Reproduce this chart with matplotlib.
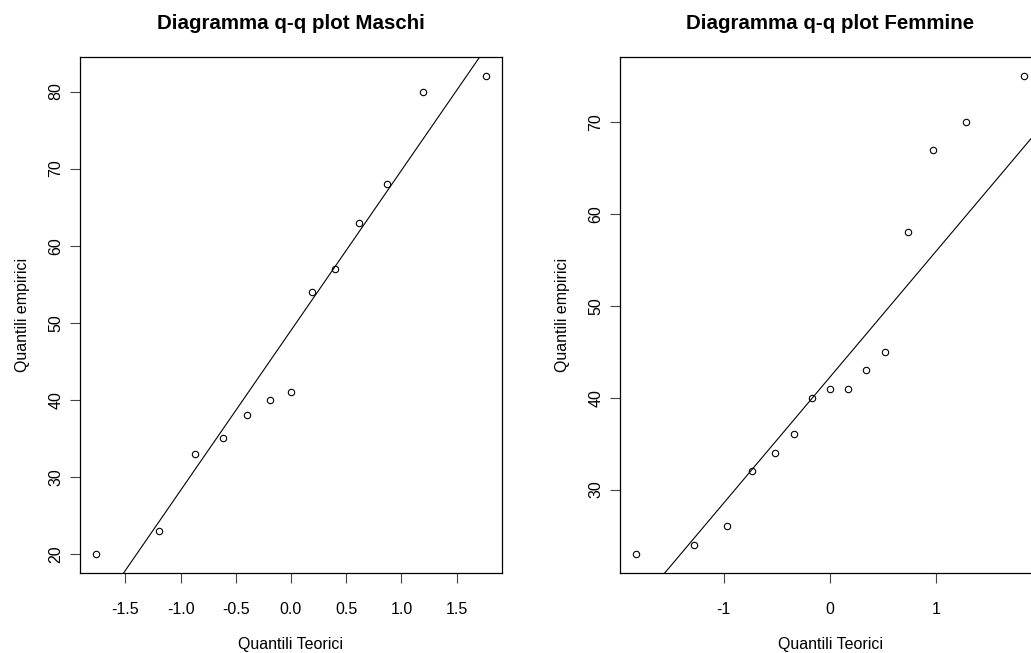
import numpy as np
import matplotlib
matplotlib.use("Agg")
import matplotlib.pyplot as plt
from matplotlib.ticker import FormatStrFormatter

plt.rcParams['font.family'] = ['Liberation Sans', 'DejaVu Sans']
plt.rcParams['axes.unicode_minus'] = False

# theoretical quantiles
x_maschi = [-1.77, -1.20, -0.87, -0.62, -0.40, -0.19, 0.0, 0.19, 0.40, 0.62, 0.87, 1.20, 1.77]
y_maschi = [20, 23, 33, 35, 38, 40, 41, 54, 57, 63, 68, 80, 82]

x_femmine = [-1.83, -1.28, -0.97, -0.73, -0.52, -0.34, -0.17, 0.0, 0.17, 0.34, 0.52, 0.73, 0.97, 1.28, 1.83]
y_femmine = [23, 24, 26, 32, 34, 36, 40, 41, 41, 43, 45, 58, 67, 70, 75]

titles = ["Diagramma q-q plot Maschi", "Diagramma q-q plot Femmine"]
xticks_list = [[-1.5, -1.0, -0.5, 0.0, 0.5, 1.0, 1.5], [-1, 0, 1]]
yticks_list = [[20, 30, 40, 50, 60, 70, 80], [30, 40, 50, 60, 70]]
xfmt = ['%.1f', '%d']

W, H = 1031, 653
fig = plt.figure(figsize=(W / 100, H / 100), dpi=100)

# axes boxes in pixels (left, right); the right panel runs past the image edge
boxes = [(80, 502), (620, 1040)]
top, bottom = 57, 573


def qqline(x, y):
    # line through the first and third quartiles, like R's qqline
    q = np.percentile(y, [25, 75])
    z = 0.6744897501960817
    slope = (q[1] - q[0]) / (2 * z)
    return slope, q[0] + z * slope


data = [(x_maschi, y_maschi), (x_femmine, y_femmine)]
for i, (xs, ys) in enumerate(data):
    l, r = boxes[i]
    ax = fig.add_axes([l / W, 1 - bottom / H, (r - l) / W, (bottom - top) / H])
    ax.plot(xs, ys, 'o', mfc='none', mec='black', ms=4.6, mew=0.8)

    xr = max(xs) - min(xs)
    yr = max(ys) - min(ys)
    ax.set_xlim(min(xs) - 0.04 * xr, max(xs) + 0.04 * xr)
    ax.set_ylim(min(ys) - 0.04 * yr, max(ys) + 0.04 * yr)

    slope, icpt = qqline(xs, ys)
    xl = np.array(ax.get_xlim())
    ax.plot(xl, icpt + slope * xl, color='black', lw=0.8)
    ax.set_xlim(xl)

    ax.set_xticks(xticks_list[i])
    ax.set_yticks(yticks_list[i])
    ax.xaxis.set_major_formatter(FormatStrFormatter(xfmt[i]))
    ax.tick_params(axis='x', length=7, width=0.8, pad=14, labelsize=11.5, color='#444444')
    ax.tick_params(axis='y', length=7, width=0.8, pad=5, labelsize=11.5, color='#444444')
    for lab in ax.get_yticklabels():
        lab.set_rotation(90)
        lab.set_va('center')
    for sp in ax.spines.values():
        sp.set_linewidth(0.9)

    ax.set_title(titles[i], fontsize=14.8, fontweight='bold', pad=20)
    ax.set_xlabel("Quantili Teorici", fontsize=11.5, labelpad=14)
    ax.set_ylabel("Quantili empirici", fontsize=11.5, labelpad=13)

fig.savefig("out.png", dpi=100)
